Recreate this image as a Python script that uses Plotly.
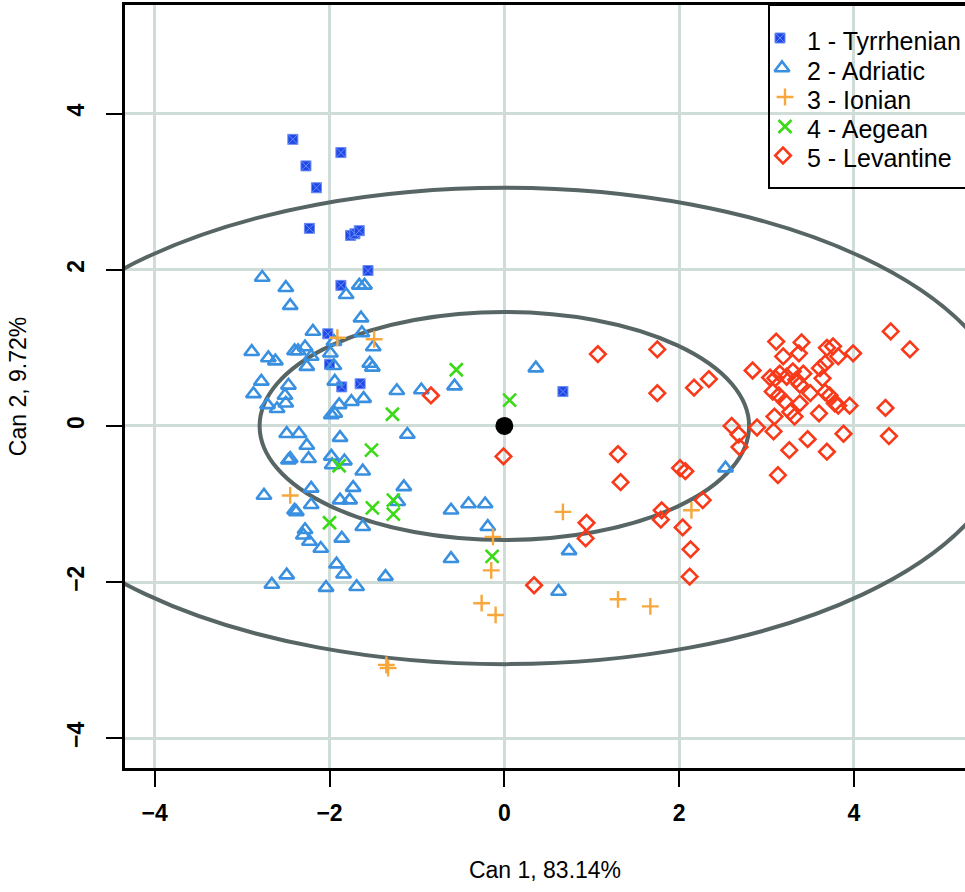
import plotly.graph_objects as go

# ---- data ----
tyr_x = [-2.42, -1.87, -2.27, -2.15, -2.23, -1.76, -1.71, -1.66, -1.56, -1.87, -2.02, -2.00, -1.86, -1.65, 0.67]
tyr_y = [3.67, 3.50, 3.33, 3.05, 2.53, 2.44, 2.46, 2.50, 1.99, 1.80, 1.18, 0.79, 0.50, 0.54, 0.44]

adr_x = [-2.77, -2.50, -2.45, -1.81, -1.66, -1.60, -1.64, -2.19, -1.63, -1.95, -1.50,
         -2.89, -2.70, -2.62, -2.40, -2.36, -2.28, -2.21, -2.26, -1.99, -1.95, -1.54, -1.51,
         -2.78, -2.87, -2.47, -2.51, -2.71, -2.60, -2.50, -1.94, -1.89, -1.75, -1.61, -1.98, -1.94, -1.23, -0.95,
         -1.11, -2.49, -2.35, -2.26, -1.88, -2.47, -2.45, -2.24, -1.98, -1.97, -1.83, -1.62, -1.73, -1.15,
         -2.75, -2.21, -2.21, -2.40, -2.38, -1.88, -1.77, -1.22, -1.62, -2.28, -2.30, -2.23, -2.10, -1.86,
         -1.92, -1.84, -2.49, -2.66, -2.04, -1.69, -1.36,
         -0.57, 0.36, -0.61, -0.41, -0.22, -0.19, -0.61, 0.74, 0.62, 2.53]
adr_y = [1.90, 1.77, 1.54, 1.68, 1.80, 1.80, 1.38, 1.21, 1.19, 1.08, 1.01,
         0.95, 0.87, 0.83, 0.96, 0.96, 1.01, 0.89, 0.76, 0.93, 0.77, 0.80, 0.75,
         0.57, 0.41, 0.52, 0.39, 0.27, 0.22, 0.29, 0.57, 0.27, 0.31, 0.35, 0.14, 0.16, 0.45, 0.46,
         -0.11, -0.10, -0.10, -0.25, -0.15, -0.44, -0.42, -0.42, -0.39, -0.50, -0.45, -0.58, -0.79, -0.78,
         -0.89, -0.80, -1.01, -1.08, -1.10, -0.95, -0.95, -0.97, -1.29, -1.33, -1.40, -1.48, -1.57, -1.44,
         -1.77, -1.90, -1.91, -2.03, -2.07, -2.06, -1.93,
         0.51, 0.74, -1.08, -1.00, -1.00, -1.29, -1.70, -1.60, -2.12, -0.54]

ion_x = [-1.91, -1.49, -2.45, -0.13, -0.15, -0.26, -0.10, 0.67, 1.30, 1.67, 2.14, -1.35, -1.33]
ion_y = [1.13, 1.11, -0.89, -1.42, -1.85, -2.27, -2.42, -1.10, -2.22, -2.31, -1.08, -3.06, -3.10]

aeg_x = [-1.28, -1.52, -1.89, -1.27, -1.51, -1.27, -2.00, -0.55, 0.06, -0.14]
aeg_y = [0.15, -0.31, -0.51, -0.95, -1.05, -1.13, -1.24, 0.72, 0.33, -1.67]

lev_x = [-0.84, -0.01, 1.07, 1.75, 1.75, 2.17, 1.30, 1.33, 2.01, 2.07, 0.94, 0.93, 1.80, 1.79, 2.04,
         2.13, 2.12, 0.34, 2.27, 2.34, 2.84, 3.11, 3.40, 3.19, 3.37, 3.69, 3.76, 3.82, 3.99, 4.42,
         4.64, 3.67, 3.61, 3.64, 3.04, 3.15, 3.10, 3.30, 3.42, 3.34, 3.38, 3.23, 3.07, 3.14, 3.50,
         3.67, 3.72, 3.21, 3.38, 3.78, 3.82, 3.95, 4.36, 3.27, 3.32, 3.09, 3.60, 2.89, 3.08, 2.60,
         2.68, 2.69, 3.47, 3.88, 4.40, 3.26, 3.69, 3.13]
lev_y = [0.39, -0.39, 0.92, 0.98, 0.42, 0.49, -0.36, -0.72, -0.54, -0.58, -1.24, -1.44, -1.08, -1.20, -1.30,
         -1.58, -1.93, -2.04, -0.95, 0.60, 0.71, 1.08, 1.07, 0.89, 0.93, 1.00, 1.02, 0.89, 0.93, 1.21,
         0.98, 0.80, 0.74, 0.61, 0.62, 0.67, 0.61, 0.70, 0.67, 0.59, 0.53, 0.63, 0.44, 0.39, 0.42,
         0.43, 0.39, 0.31, 0.29, 0.29, 0.26, 0.26, 0.23, 0.18, 0.12, 0.12, 0.16, -0.02, -0.07, 0.00,
         -0.11, -0.27, -0.17, -0.10, -0.13, -0.31, -0.33, -0.63]

group_names = ["1 - Tyrrhenian", "2 - Adriatic", "3 - Ionian", "4 - Aegean", "5 - Levantine"]
centroid = [0.0, 0.0]
ellipse_inner = [2.80, 1.46]   # semi-axes (Can 1, Can 2)
ellipse_outer = [5.80, 3.05]

x_ticks = [-4, -2, 0, 2, 4]
y_ticks = [-4, -2, 0, 2, 4]

FONT = "Liberation Sans, Arial, Helvetica, sans-serif"

styles = [
    dict(symbol="square-x", size=10, color="#1f48e8", line=dict(color="#6b8cf2", width=1)),
    dict(symbol="triangle-up-open", size=13, color="#3a90e0", line=dict(color="#3a90e0", width=2.6)),
    dict(symbol="cross-thin-open", size=12, color="#f7a73c", line=dict(color="#f7a73c", width=2.4)),
    dict(symbol="x-thin-open", size=13, color="#3ada16", line=dict(color="#3ada16", width=2.6)),
    dict(symbol="diamond-open", size=12, color="#f93a1a", line=dict(color="#f93a1a", width=2.6)),
]
series = [(tyr_x, tyr_y), (adr_x, adr_y), (ion_x, ion_y), (aeg_x, aeg_y), (lev_x, lev_y)]

fig = go.Figure()
for (xs, ys), name, st in zip(series, group_names, styles):
    fig.add_trace(go.Scatter(x=xs, y=ys, mode="markers", name=name,
                             marker=st, showlegend=False))

fig.add_trace(go.Scatter(
    x=[centroid[0]], y=[centroid[1]], mode="markers", showlegend=False,
    marker=dict(symbol="circle", size=18, color="black")))

for (a, b) in (ellipse_inner, ellipse_outer):
    fig.add_shape(type="circle", xref="x", yref="y",
                  x0=centroid[0] - a, x1=centroid[0] + a,
                  y0=centroid[1] - b, y1=centroid[1] + b,
                  line=dict(color="#576564", width=4), layer="between")

# ---- legend box (R-style, transparent, drawn on a pixel-unit overlay axis) ----
leg_rows = [38, 68, 97, 126.5, 155.5]
leg_marker_x = [780, 782, 785, 785, 783]
for i, (name, st) in enumerate(zip(group_names, styles)):
    fig.add_trace(go.Scatter(x=[leg_marker_x[i]], y=[leg_rows[i]], mode="markers",
                             marker=st, xaxis="x2", yaxis="y2", showlegend=False,
                             hoverinfo="skip"))
    fig.add_annotation(x=805, y=leg_rows[i] + 2.5, xref="x2", yref="y2", text=name,
                       showarrow=False, xanchor="left", yanchor="middle",
                       font=dict(size=25, family=FONT, color="black"))
fig.add_shape(type="rect", xref="x2", yref="y2", x0=769, x1=1010, y0=5, y1=188,
              line=dict(color="black", width=2), fillcolor="rgba(0,0,0,0)", layer="above")

tick_font = dict(size=23, family="Liberation Sans, Arial", color="black", weight="bold")

fig.update_layout(
    width=965, height=892,
    margin=dict(l=125, r=0, t=5, b=124),
    paper_bgcolor="white", plot_bgcolor="white",
    font=dict(family=FONT, color="black"),
    showlegend=False,
    xaxis=dict(
        range=[-4.34, 5.27], tickmode="array", tickvals=x_ticks,
        ticktext=[str(v).replace("-", "\u2212") for v in x_ticks],
        showgrid=True, gridcolor="#cfdcd8", gridwidth=3, zeroline=False,
        showline=True, linecolor="black", linewidth=3, mirror=True,
        ticks="outside", ticklen=16, tickwidth=2, tickcolor="black",
        tickfont=tick_font, ticklabelstandoff=6,
        title=dict(text="Can 1, 83.14%", font=dict(size=23, family=FONT), standoff=38)),
    yaxis=dict(
        range=[-4.38, 5.39], tickmode="array", tickvals=y_ticks,
        ticktext=[str(v).replace("-", "\u2212") for v in y_ticks],
        showgrid=True, gridcolor="#cfdcd8", gridwidth=3, zeroline=False,
        showline=True, linecolor="black", linewidth=3, mirror=False,
        ticks="outside", ticklen=16, tickwidth=2, tickcolor="black",
        tickangle=-90, tickfont=tick_font, ticklabelstandoff=13,
        title=dict(text="Can 2, 9.72%", font=dict(size=23, family=FONT), standoff=30)),
    xaxis2=dict(overlaying="x", range=[125, 965], visible=False, anchor="y2"),
    yaxis2=dict(overlaying="y", range=[768, 5], visible=False, anchor="x2"),
)

fig.write_html("out.html", config={"displayModeBar": False},
               post_script="document.body.style.margin='0px';")
